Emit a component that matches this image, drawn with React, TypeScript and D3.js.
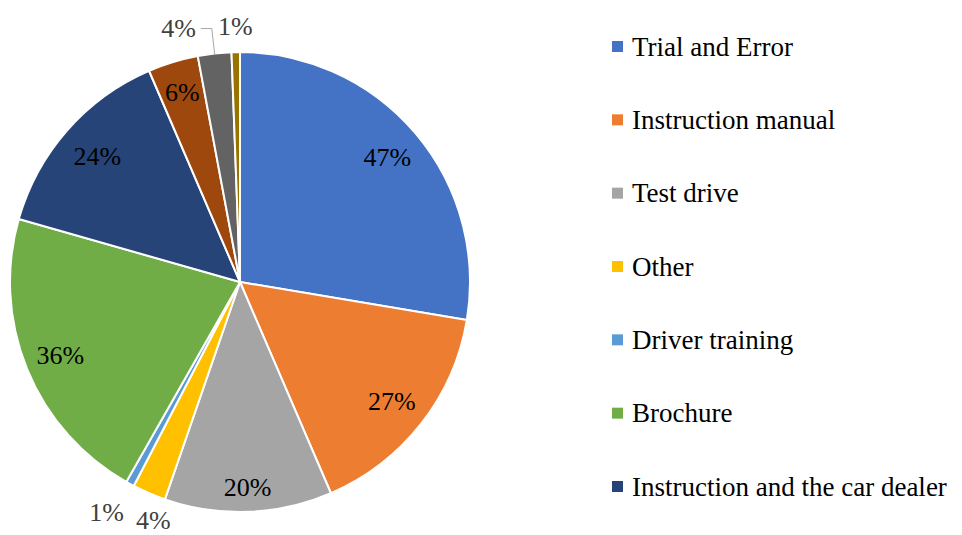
import React, { useEffect, useRef } from 'react';
import * as d3 from 'd3';

// slice values as printed on the chart (they add to 170, so slices are value / 170)
const values = [47, 27, 20, 4, 1, 36, 24, 6, 4, 1];
const labels = ['47%', '27%', '20%', '4%', '1%', '36%', '24%', '6%', '4%', '1%'];
// legend only shows the first seven categories
const legendNames = [
	'Trial and Error',
	'Instruction manual',
	'Test drive',
	'Other',
	'Driver training',
	'Brochure',
	'Instruction and the car dealer',
];
const colors = [
	'#4472C4', '#ED7D31', '#A5A5A5', '#FFC000', '#5B9BD5',
	'#70AD47', '#264478', '#9E480E', '#636363', '#997300',
];

const W = 962;
const H = 535;
const FONT = 'Times New Roman, Liberation Serif, DejaVu Serif, serif';

function App() {
	const svgRef = useRef<SVGSVGElement>(null);

	useEffect(() => {
		const svg = d3.select(svgRef.current);
		svg.selectAll('*').remove();

		const cx = 240;
		const cy = 282;
		const R = 230;

		const g = svg.append('g').attr('transform', `translate(${cx},${cy})`);
		const pie = d3.pie<number>().sort(null).value((d) => d);
		const arcs = pie(values);
		const arc = d3.arc<d3.PieArcDatum<number>>().innerRadius(0).outerRadius(R);

		g.selectAll('path.slice')
			.data(arcs)
			.join('path')
			.attr('class', 'slice')
			.attr('d', arc)
			.attr('fill', (_, i) => colors[i])
			.attr('stroke', '#fff')
			.attr('stroke-width', 2)
			.attr('stroke-linejoin', 'round');

		// label placement: inside slices on a ring, small slices outside
		const inRadius = [193, 193, 206, 0, 0, 194, 190, 198, 0, 0];
		const outside: Record<number, { r: number; dx: number; dy: number; anchor: string }> = {
			3: { r: 262, dx: 17, dy: -2, anchor: 'middle' },
			4: { r: 262, dx: -8, dy: 0, anchor: 'middle' },
			8: { r: 255, dx: -16, dy: 0, anchor: 'end' },
			9: { r: 254, dx: 0, dy: -2, anchor: 'middle' },
		};

		const pt = (a: number, r: number) => [Math.sin(a) * r, -Math.cos(a) * r];

		arcs.forEach((d, i) => {
			const mid = (d.startAngle + d.endAngle) / 2;
			const o = outside[i];
			if (!o) {
				const [x, y] = pt(mid, inRadius[i]);
				g.append('text')
					.attr('x', x)
					.attr('y', y)
					.attr('text-anchor', 'middle')
					.attr('dominant-baseline', 'central')
					.attr('font-family', FONT)
					.attr('font-size', 26)
					.attr('fill', '#000')
					.text(labels[i]);
				return;
			}
			const [x, y] = pt(mid, o.r);
			if (i === 8) {
				// leader line for the small grey slice
				const [x0, y0] = pt(mid, R - 1);
				g.append('polyline')
					.attr('points', `${x0},${y0} ${x},${y} ${x - 11},${y}`)
					.attr('fill', 'none')
					.attr('stroke', '#A6A6A6')
					.attr('stroke-width', 1);
			}
			g.append('text')
				.attr('x', x + o.dx)
				.attr('y', y + o.dy)
				.attr('text-anchor', o.anchor)
				.attr('dominant-baseline', 'central')
				.attr('font-family', FONT)
				.attr('font-size', 26)
				.attr('fill', '#404040')
				.text(labels[i]);
		});

		// legend
		const legendY = d3.scaleLinear().domain([0, legendNames.length - 1]).range([46.5, 486.5]);
		const lg = svg.append('g');
		legendNames.forEach((name, i) => {
			const y = legendY(i);
			lg.append('rect')
				.attr('x', 612)
				.attr('y', y - 5.5)
				.attr('width', 11)
				.attr('height', 11)
				.attr('fill', colors[i]);
			lg.append('text')
				.attr('x', 632)
				.attr('y', y)
				.attr('dominant-baseline', 'central')
				.attr('font-family', FONT)
				.attr('font-size', 27)
				.attr('fill', '#000')
				.text(name);
		});
	}, []);

	return (
		<svg
			ref={svgRef}
			width={W}
			height={H}
			style={{ position: 'absolute', left: 0, top: 0, background: '#fff' }}
		/>
	);
}

export default App;
